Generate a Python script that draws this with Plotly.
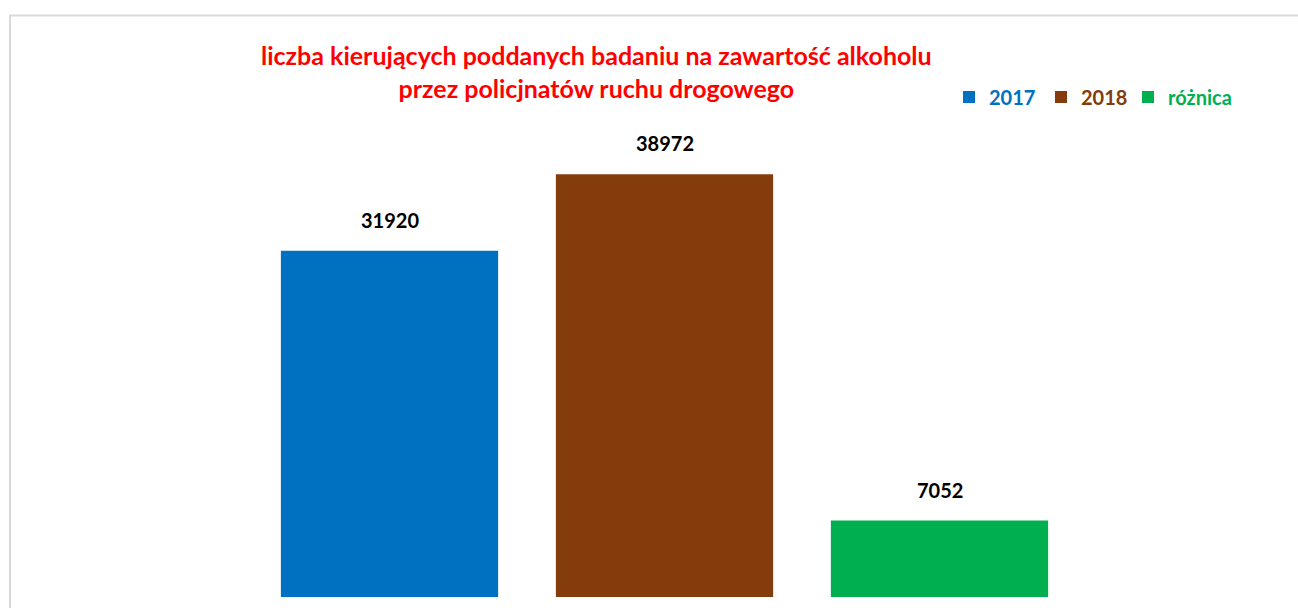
import plotly.graph_objects as go

categories = ["2017", "2018", "różnica"]
values = [31920, 38972, 7052]
colors = ["#0070C0", "#843C0C", "#00B050"]
title_lines = ["liczba kierujących poddanych badaniu na zawartość alkoholu",
               "przez policjnatów ruchu drogowego"]

W, H = 1298, 608
L, R, T, B = 252, 221, 109, 11
FONT = "Lato"

pw, ph = W - L - R, H - T - B
def px(x): return (x - L) / pw
def py(y): return (H - B - y) / ph

fig = go.Figure()
for i, (c, v, col) in enumerate(zip(categories, values, colors)):
    fig.add_trace(go.Bar(x=[c], y=[v],
                         name=f"<b><span style='color:{col}'>{c}</span></b>",
                         legend="legend" if i < 2 else "legend2",
                         marker=dict(color=col, line=dict(width=0)),
                         width=0.79, hovertemplate=f"{c}: %{{y}}<extra></extra>"))
    fig.add_annotation(x=i, y=v, xref="x", yref="y", text=f"<b>{v}</b>", showarrow=False,
                       yanchor="bottom", yshift=17,
                       font=dict(family=FONT, size=20, color="#000000"))

fig.add_shape(type="rect", xref="paper", yref="paper",
              x0=px(10), x1=px(1320), y0=py(630), y1=py(15.5),
              line=dict(color="#D9D9D9", width=2), fillcolor="rgba(0,0,0,0)", layer="below")

fig.add_annotation(xref="paper", yref="paper", x=px(596), y=py(71), xanchor="center", yanchor="middle",
                   text="<b>" + title_lines[0] + "<br>" + title_lines[1] + "</b>", showarrow=False,
                   font=dict(family=FONT, size=25, color="#FF0000"), align="center")

leg_common = dict(orientation="h", y=py(97), xanchor="left", yanchor="middle",
                  font=dict(family=FONT, size=20), itemwidth=30,
                  bgcolor="rgba(0,0,0,0)", itemclick=False, itemdoubleclick=False)

fig.update_layout(
    width=W, height=H, autosize=False,
    margin=dict(l=L, r=R, t=T, b=B, pad=0),
    paper_bgcolor="white", plot_bgcolor="white",
    barmode="overlay", bargap=0.21,
    showlegend=True,
    legend=dict(x=px(949), entrywidth=47, **leg_common),
    legend2=dict(x=px(1128), **leg_common),
    xaxis=dict(visible=False, type="category", range=[-0.5, 2.5]),
    yaxis=dict(visible=False, range=[0, 45000]),
)

fig.write_html("out.html", config={"displayModeBar": False},
               post_script="document.body.style.margin='0';")
